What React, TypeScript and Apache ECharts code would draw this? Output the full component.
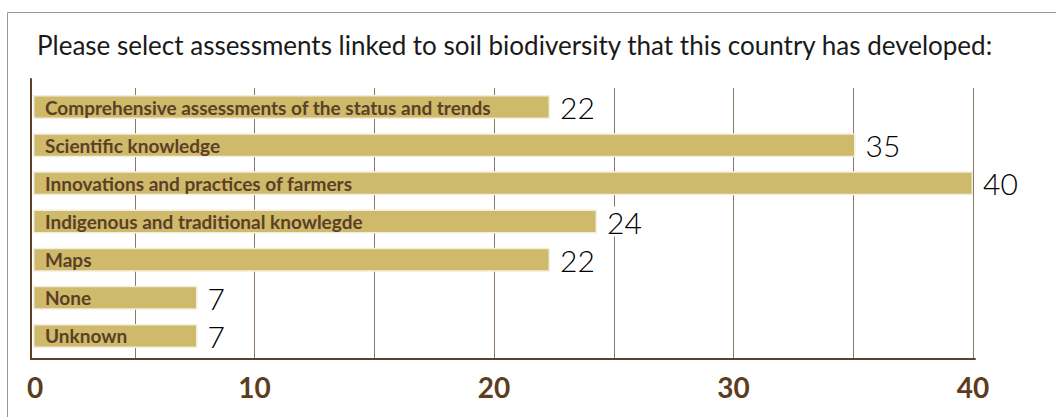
import React, { useEffect, useRef } from "react";
import * as echarts from "echarts";

const titleText =
  "Please select assessments linked to soil biodiversity that this country has developed:";
const categories = [
  "Comprehensive assessments of the status and trends",
  "Scientific knowledge",
  "Innovations and practices of farmers",
  "Indigenous and traditional knowlegde",
  "Maps",
  "None",
  "Unknown",
];
const values = [22, 35, 40, 24, 22, 7, 7];
const axisMin = 0;
const axisMax = 40;
const gridInterval = 5;
const labelStep = 10;

const FONT = "Lato, 'Noto Sans', sans-serif";

export default function App() {
  const ref = useRef<HTMLDivElement>(null);
  useEffect(() => {
    document.body.style.margin = "0";
    const chart = echarts.init(ref.current!, null, { renderer: "svg" });
    chart.setOption({
      animation: false,
      backgroundColor: "#ffffff",
      title: {
        text: titleText,
        left: 32,
        top: 27,
        textStyle: { fontFamily: FONT, fontSize: 26, fontWeight: "normal", color: "#1a1a1a" },
      },
      graphic: [
        {
          type: "rect",
          silent: true,
          shape: { x: 7.5, y: 12.5, width: 1200, height: 600 },
          style: { fill: "none", stroke: "#a3958a", lineWidth: 1 },
        },
      ],
      grid: [
        { left: 15, right: 83, top: 88, bottom: 58 },
        { left: 33, right: 83, top: 88, height: 267 },
        { left: 31, right: 81, top: 79, bottom: 58 },
      ],
      xAxis: [
        {
          gridIndex: 0,
          type: "value",
          min: axisMin,
          max: axisMax,
          interval: gridInterval,
          axisLine: { show: false },
          axisTick: { show: false },
          splitLine: { show: true, showMinLine: false, lineStyle: { color: "#8a7866", width: 1 } },
          axisLabel: {
            formatter: (v: number) => (v % labelStep === 0 && v > axisMin ? String(v) : ""),
            fontFamily: FONT,
            fontSize: 28,
            fontWeight: "bold",
            color: "#5c3d1e",
            margin: 14,
          },
        },
        { gridIndex: 1, type: "value", min: axisMin, max: axisMax, show: false },
        {
          gridIndex: 2,
          type: "value",
          min: axisMin,
          max: axisMax,
          interval: labelStep,
          axisLine: { show: true, onZero: false, lineStyle: { color: "#5c4028", width: 2 } },
          axisTick: { show: false },
          splitLine: { show: false },
          axisLabel: {
            formatter: (v: number) => (v === axisMin ? String(v) : ""),
            fontFamily: FONT,
            fontSize: 28,
            fontWeight: "bold",
            color: "#5c3d1e",
            margin: 14,
            padding: [0, 0, 0, 8],
          },
        },
      ],
      yAxis: [
        { gridIndex: 0, type: "category", data: categories, show: false },
        {
          gridIndex: 1,
          type: "category",
          data: categories,
          inverse: true,
          z: 10,
          axisLine: { show: false },
          axisTick: { show: false },
          splitLine: { show: false },
          axisLabel: {
            inside: true,
            margin: 12,
            fontFamily: FONT,
            fontSize: 19,
            fontWeight: "bold",
            color: "#5a4126",
          },
        },
        {
          gridIndex: 2,
          type: "value",
          min: 0,
          max: 1,
          axisLine: { show: true, onZero: false, lineStyle: { color: "#5c4028", width: 2 } },
          axisTick: { show: false },
          splitLine: { show: false },
          axisLabel: { show: false },
        },
      ],
      series: [
        {
          type: "bar",
          xAxisIndex: 1,
          yAxisIndex: 1,
          data: values,
          barWidth: 24,
          itemStyle: { color: "#cfb96a", borderColor: "#f4eedf", borderWidth: 1.5 },
          label: {
            show: true,
            position: "right",
            distance: 8,
            fontFamily: FONT,
            fontSize: 30,
            fontWeight: 300,
            color: "#000000",
            backgroundColor: "#ffffff",
            padding: [0, 2],
          },
        },
      ],
    });
    return () => chart.dispose();
  }, []);
  return <div ref={ref} style={{ width: 1056, height: 417 }} />;
}
